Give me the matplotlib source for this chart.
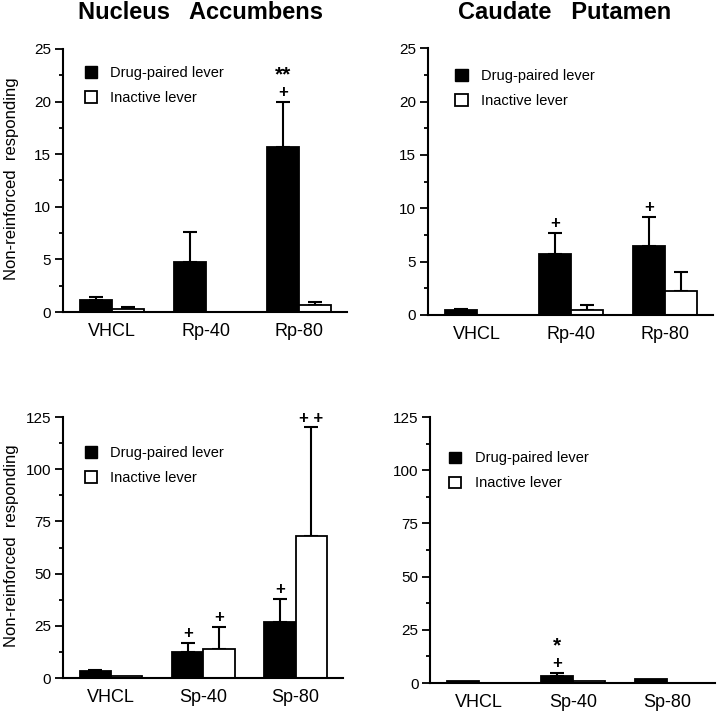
import numpy as np
import matplotlib
matplotlib.use('Agg')
import matplotlib.pyplot as plt
from matplotlib.patches import Patch
from matplotlib.ticker import MultipleLocator

plt.rcParams['font.family'] = ['Liberation Sans', 'DejaVu Sans']

# Group labels
rp_groups = ['VHCL', 'Rp-40', 'Rp-80']
sp_groups = ['VHCL', 'Sp-40', 'Sp-80']

# Nucleus accumbens, Rp series (mean, SEM)
na_rp_drug = [1.1, 4.8, 15.7]
na_rp_drug_sem = [0.3, 2.8, 4.3]
na_rp_inact = [0.25, 0.0, 0.7]
na_rp_inact_sem = [0.25, 0.0, 0.3]

# Caudate putamen, Rp series
cp_rp_drug = [0.5, 5.7, 6.5]
cp_rp_drug_sem = [0.1, 2.0, 2.7]
cp_rp_inact = [0.0, 0.5, 2.2]
cp_rp_inact_sem = [0.0, 0.4, 1.8]

# Nucleus accumbens, Sp series
na_sp_drug = [3.5, 12.5, 27.0]
na_sp_drug_sem = [0.5, 4.5, 11.0]
na_sp_inact = [1.0, 14.0, 68.0]
na_sp_inact_sem = [0.0, 10.5, 52.0]

# Caudate putamen, Sp series
cp_sp_drug = [1.0, 3.5, 2.0]
cp_sp_drug_sem = [0.0, 1.3, 0.0]
cp_sp_inact = [0.0, 1.0, 0.0]
cp_sp_inact_sem = [0.0, 0.0, 0.0]

# significance marks: (group index, 0=drug / 1=inactive, plus text, star text)
na_rp_marks = [(2, 0, '+', '**')]
cp_rp_marks = [(1, 0, '+', ''), (2, 0, '+', '')]
na_sp_marks = [(1, 0, '+', ''), (1, 1, '+', ''), (2, 0, '+', ''), (2, 1, '+ +', '')]
cp_sp_marks = [(1, 0, '+', '*')]

fig = plt.figure(figsize=(7.17, 7.19), dpi=100)

w = 0.34


def panel(rect, groups, drug, drug_sem, inact, inact_sem, marks, ymax, major,
          leg_anchor):
    ax = fig.add_axes(rect)
    x = np.arange(len(groups))
    xd = x - w / 2
    xi = x + w / 2
    ax.bar(xd, drug, w, color='black', edgecolor='black', linewidth=1.3, zorder=2)
    ax.bar(xi, inact, w, color='white', edgecolor='black', linewidth=1.3, zorder=2)
    for xs, vals, sems in [(xd, drug, drug_sem), (xi, inact, inact_sem)]:
        for xx, v, s in zip(xs, vals, sems):
            if s > 0:
                ax.errorbar(xx, v, yerr=[[0], [s]], fmt='none', ecolor='black',
                            elinewidth=1.5, capsize=5, capthick=1.5, zorder=1)
    for g, series, plus, star in marks:
        if series == 0:
            xx, top = xd[g], drug[g] + drug_sem[g]
        else:
            xx, top = xi[g], inact[g] + inact_sem[g]
        ax.annotate(plus, (xx, top), xytext=(0, 1), textcoords='offset points',
                    ha='center', va='bottom', fontsize=12, fontweight='bold')
        if star:
            ax.annotate(star, (xx, top), xytext=(0, 12.5), textcoords='offset points',
                        ha='center', va='bottom', fontsize=15, fontweight='bold')
    ax.set_xlim(-0.52, 2.51)
    ax.set_ylim(0, ymax)
    ax.set_xticks(x)
    ax.set_xticklabels(groups, fontsize=13)
    ax.tick_params(axis='x', length=0, pad=8)
    ax.yaxis.set_major_locator(MultipleLocator(major))
    ax.yaxis.set_minor_locator(MultipleLocator(major / 2))
    ax.tick_params(axis='y', which='major', direction='out', length=5.5, width=1.3,
                   labelsize=11, pad=3)
    ax.tick_params(axis='y', which='minor', direction='out', length=3, width=1.3)
    for s in ['top', 'right']:
        ax.spines[s].set_visible(False)
    for s in ['left', 'bottom']:
        ax.spines[s].set_linewidth(1.5)
    handles = [Patch(facecolor='black', edgecolor='black', label='Drug-paired lever'),
               Patch(facecolor='white', edgecolor='black', linewidth=1.3,
                     label='Inactive lever')]
    ax.legend(handles=handles, loc='upper left', bbox_to_anchor=leg_anchor,
              frameon=False, fontsize=10.5, handlelength=0.85, handleheight=0.85,
              handletextpad=0.9, labelspacing=0.75)
    return ax


ax1 = panel([0.088, 0.566, 0.396, 0.366], rp_groups, na_rp_drug, na_rp_drug_sem,
            na_rp_inact, na_rp_inact_sem, na_rp_marks, 25, 5, (0.03, 0.985))
ax2 = panel([0.597, 0.562, 0.397, 0.371], rp_groups, cp_rp_drug, cp_rp_drug_sem,
            cp_rp_inact, cp_rp_inact_sem, cp_rp_marks, 25, 5, (0.05, 0.97))
ax3 = panel([0.088, 0.057, 0.390, 0.363], sp_groups, na_sp_drug, na_sp_drug_sem,
            na_sp_inact, na_sp_inact_sem, na_sp_marks, 125, 25, (0.03, 0.94))
ax4 = panel([0.600, 0.050, 0.397, 0.370], sp_groups, cp_sp_drug, cp_sp_drug_sem,
            cp_sp_inact, cp_sp_inact_sem, cp_sp_marks, 125, 25, (0.02, 0.92))

ax1.set_ylabel('Non-reinforced  responding', fontsize=12)
ax1.yaxis.set_label_coords(-0.155, 0.506)
ax3.set_ylabel('Non-reinforced  responding', fontsize=12)
ax3.yaxis.set_label_coords(-0.158, 0.506)

fig.text(0.279, 0.982, 'Nucleus   Accumbens', ha='center', va='center',
         fontsize=17, fontweight='bold')
fig.text(0.788, 0.982, 'Caudate   Putamen', ha='center', va='center',
         fontsize=17, fontweight='bold')

fig.savefig('out.png', dpi=100)
